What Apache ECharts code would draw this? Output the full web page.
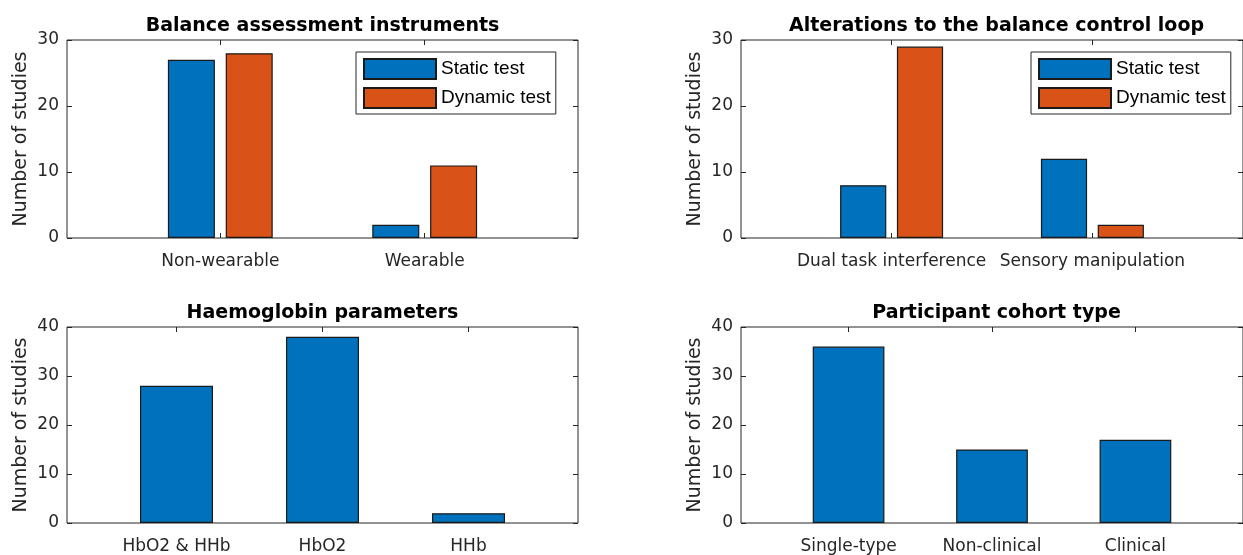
<!DOCTYPE html>
<html>
<head>
<meta charset="utf-8">
<script src="https://cdn.jsdelivr.net/npm/echarts@6/dist/echarts.min.js"></script>
<style>
html,body{margin:0;padding:0;background:#fff;}
#chart{width:1243px;height:555px;}
</style>
</head>
<body>
<div id="chart"></div>
<script>
// ---- data ----
const seriesNames = ['Static test', 'Dynamic test'];
const balanceTitle = 'Balance assessment instruments';
const balanceCats = ['Non-wearable', 'Wearable'];
const balanceStatic = [27, 2];
const balanceDynamic = [28, 11];

const loopTitle = 'Alterations to the balance control loop';
const loopCats = ['Dual task interference', 'Sensory manipulation'];
const loopStatic = [8, 12];
const loopDynamic = [29, 2];

const haemoTitle = 'Haemoglobin parameters';
const haemoCats = ['HbO2 & HHb', 'HbO2', 'HHb'];
const haemoValues = [28, 38, 2];

const cohortTitle = 'Participant cohort type';
const cohortCats = ['Single-type', 'Non-clinical', 'Clinical'];
const cohortValues = [36, 15, 17];

const yTicksTop = [0, 10, 20, 30];
const yTicksBottom = [0, 10, 20, 30, 40];
const yName = 'Number of studies';

// ---- styling ----
const AX = '#262626';
const BLUE = '#0072BD';
const ORANGE = '#D95319';
const FONT = 'DejaVu Sans';

const grids = [
  {left: 67, top: 40, width: 511, height: 198},
  {left: 741, top: 40, width: 511, height: 198},
  {left: 67, top: 327, width: 511, height: 198},
  {left: 741, top: 327, width: 511, height: 198}
];
const panels = [
  {title: balanceTitle, cats: balanceCats, yt: yTicksTop},
  {title: loopTitle, cats: loopCats, yt: yTicksTop},
  {title: haemoTitle, cats: haemoCats, yt: yTicksBottom},
  {title: cohortTitle, cats: cohortCats, yt: yTicksBottom}
];

const hiddenLine = {show: false, onZero: false};
const xAxes = [], yAxes = [], titles = [];
panels.forEach((p, k) => {
  const n = p.cats.length;
  const pos = p.cats.map((c, i) => i + 1);
  const ymax = p.yt[p.yt.length - 1];
  const ystep = p.yt[1] - p.yt[0];
  xAxes.push({
    gridIndex: k, type: 'value', position: 'bottom', min: 0.25, max: n + 0.75,
    axisLine: hiddenLine, splitLine: {show: false},
    axisTick: {show: true, inside: true, length: 5, customValues: pos, lineStyle: {color: AX}},
    axisLabel: {show: true, customValues: pos, margin: 15, color: AX, fontFamily: FONT, fontSize: 17,
      formatter: v => p.cats[Math.round(v) - 1] || ''}
  });
  xAxes.push({
    gridIndex: k, type: 'value', position: 'top', min: 0.25, max: n + 0.75,
    axisLine: hiddenLine, splitLine: {show: false},
    axisTick: {show: true, inside: true, length: 5, customValues: pos, lineStyle: {color: AX}},
    axisLabel: {show: false}
  });
  yAxes.push({
    gridIndex: k, type: 'value', position: 'left', min: 0, max: ymax, interval: ystep,
    name: yName, nameLocation: 'middle', nameGap: 36,
    nameTextStyle: {color: AX, fontFamily: FONT, fontSize: 19},
    axisLine: hiddenLine, splitLine: {show: false},
    axisTick: {show: true, inside: true, length: 5, lineStyle: {color: AX}},
    axisLabel: {margin: 8, color: AX, fontFamily: FONT, fontSize: 17}
  });
  yAxes.push({
    gridIndex: k, type: 'value', position: 'right', min: 0, max: ymax, interval: ystep,
    axisLine: hiddenLine, splitLine: {show: false},
    axisTick: {show: true, inside: true, length: 5, lineStyle: {color: AX}},
    axisLabel: {show: false}
  });
  const g = grids[k];
  titles.push({
    text: p.title, left: g.left + 255.5, top: k < 2 ? 17 : 304, textAlign: 'center', padding: 0,
    textStyle: {color: '#000', fontFamily: FONT, fontWeight: 'bold', fontSize: 19}
  });
});

function pairs(vals) { return vals.map((v, i) => [i + 1, v]); }
const edge = {borderColor: '#1a1a1a', borderWidth: 1.2};

const series = [
  {name: seriesNames[0], type: 'bar', xAxisIndex: 0, yAxisIndex: 0, data: pairs(balanceStatic),
   barWidth: '23%', barGap: '23%', itemStyle: Object.assign({color: BLUE}, edge)},
  {name: seriesNames[1], type: 'bar', xAxisIndex: 0, yAxisIndex: 0, data: pairs(balanceDynamic),
   barWidth: '23%', barGap: '23%', itemStyle: Object.assign({color: ORANGE}, edge)},
  {name: seriesNames[0], type: 'bar', xAxisIndex: 2, yAxisIndex: 2, data: pairs(loopStatic),
   barWidth: '23%', barGap: '23%', itemStyle: Object.assign({color: BLUE}, edge)},
  {name: seriesNames[1], type: 'bar', xAxisIndex: 2, yAxisIndex: 2, data: pairs(loopDynamic),
   barWidth: '23%', barGap: '23%', itemStyle: Object.assign({color: ORANGE}, edge)},
  {name: haemoTitle, type: 'bar', xAxisIndex: 4, yAxisIndex: 4, data: pairs(haemoValues),
   barWidth: '50%', itemStyle: Object.assign({color: BLUE}, edge)},
  {name: cohortTitle, type: 'bar', xAxisIndex: 6, yAxisIndex: 6, data: pairs(cohortValues),
   barWidth: '50%', itemStyle: Object.assign({color: BLUE}, edge)}
];

const legendBase = {
  orient: 'vertical', data: seriesNames, icon: 'rect', itemWidth: 72, itemHeight: 20,
  itemGap: 7, padding: [6, 5, 5, 7], borderColor: AX, borderWidth: 1, backgroundColor: '#fff',
  selectedMode: false,
  textStyle: {color: '#000', fontFamily: 'Liberation Sans', fontSize: 19}
};

const option = {
  animation: false,
  backgroundColor: '#fff',
  title: titles,
  grid: grids.map(g => Object.assign({show: true, borderColor: AX, borderWidth: 1, backgroundColor: 'transparent'}, g)),
  xAxis: xAxes,
  yAxis: yAxes,
  legend: [
    Object.assign({left: 356, top: 52}, legendBase),
    Object.assign({left: 1031, top: 52}, legendBase)
  ],
  series: series
};

const chart = echarts.init(document.getElementById('chart'), null, {renderer: 'canvas'});
chart.setOption(option);
</script>
</body>
</html>
